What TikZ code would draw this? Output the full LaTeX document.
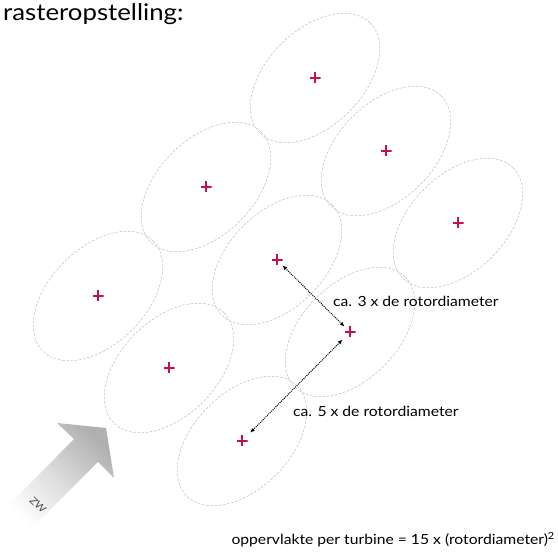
\documentclass[tikz,border=0pt]{standalone}
\usepackage{fontspec}
\setmainfont{Lato}[FakeStretch=1.12]
\usetikzlibrary{arrows.meta}
\definecolor{plusred}{RGB}{200,16,72}
\tikzset{
  turb/.style={minimum size=11pt, inner sep=0pt, outer sep=0pt,
    path picture={\draw[plusred, line width=2.6pt]
      (path picture bounding box.north) -- (path picture bounding box.south)
      (path picture bounding box.west) -- (path picture bounding box.east);}},
  ring/.style={draw=black!24, line width=0.55pt, dash pattern=on 2.6pt off 1.6pt},
  dimarrow/.style={black, line width=1pt, dash pattern=on 1pt off 1pt,
    {Latex[length=4.5pt,width=4pt]}-{Latex[length=4.5pt,width=4pt]}},
  lbl/.style={anchor=base west, inner sep=0pt, font=\fontsize{14}{17}\selectfont}
}
\begin{document}
\begin{tikzpicture}[x=1pt,y=-1pt]
\useasboundingbox (0,0) rectangle (558,556);
% turbine positions
\coordinate (c1) at (315,78);
\coordinate (c2) at (386,151);
\coordinate (c3) at (458,223);
\coordinate (c4) at (206,187);
\coordinate (c5) at (277,260);
\coordinate (c6) at (350,332);
\coordinate (c7) at (98,296);
\coordinate (c8) at (169,368);
\coordinate (c9) at (242,441);
% ZW arrow
\shade[top color=black!31, bottom color=white, middle color=black!14, shading angle=-45]
  (85,450) ++(21,-22) coordinate (zwtip)
  -- ++(-49,-5) -- ++(17,16) -- ++(-70,71) -- ++(23,23) -- ++(71,-71) -- ++(16,16) -- cycle;
\node[rotate=-45, text=black!70, inner sep=0pt, font=\fontsize{10}{12}\selectfont] (zw) at (38,505) {ZW};
% rotor areas
\foreach \n in {1,...,9}{
  \draw[ring, rotate around={45:(c\n)}] (c\n) ellipse [x radius=78, y radius=48];
}
% turbines
\foreach \n in {1,...,9}{
  \node[turb] (t\n) at (c\n) {};
}
% dimensions
\draw[dimarrow] (t5) -- (t6);
\draw[dimarrow, shorten <=3pt, shorten >=4pt] (t6) -- (t9);
\node[lbl] (l3) at (333,307) {ca. 3 x de rotordiameter};
\node[lbl] (l5) at (293,417) {ca. 5 x de rotordiameter};
% title and note
\node[anchor=base west, inner sep=0pt, font=\fontsize{23}{27}\selectfont] (title) at (3,21) {rasteropstelling:};
\node[lbl, anchor=base east] (note) at (555,545)
  {oppervlakte per turbine = 15 x (rotordiameter)\textsuperscript{2}};
\end{tikzpicture}
\end{document}
